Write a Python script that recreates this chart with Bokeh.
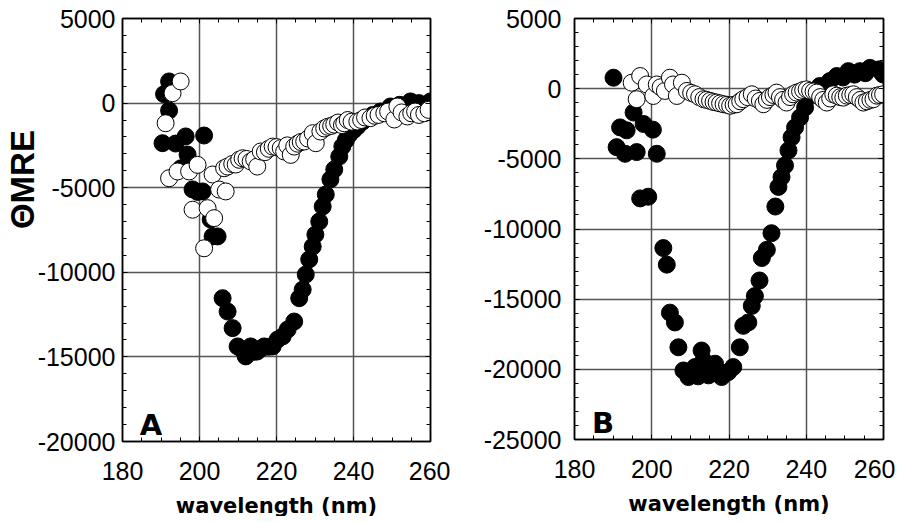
from bokeh.plotting import figure
from bokeh.layouts import row
from bokeh.models import FixedTicker, LinearAxis, Range1d, CustomJSTickFormatter
from bokeh.core.properties import value
from bokeh.embed import file_html
from bokeh.resources import INLINE

# ---------------- data ----------------
x_ticks = [180, 200, 220, 240, 260]
x_minor = list(range(180, 261, 5))
ya_ticks = [-20000, -15000, -10000, -5000, 0, 5000]
ya_minor = list(range(-20000, 5001, 1000))
yb_ticks = [-25000, -20000, -15000, -10000, -5000, 0, 5000]
yb_minor = list(range(-25000, 5001, 1000))

# Panel A, filled circles
a_filled_wl = [190.4, 190.8, 192.1, 192.1, 193.8, 195.2, 196.4, 196.9, 198.2, 199.5,
               200.8, 201.2, 202.9, 203.4, 204.7, 206.0, 207.3, 208.6, 209.9, 211.0,
               212.0, 213.3, 214.2, 215.0, 216.0, 216.8, 218.0, 219.0, 220.3, 221.6,
               222.9, 224.6, 225.9, 226.8, 227.6, 228.5, 229.4, 230.1, 231.1, 232.0,
               232.8, 234.0, 235.0, 236.3, 237.1, 238.0, 238.9, 240.0, 241.0, 242.3,
               243.6, 245.0, 247.0, 249.6, 252.0, 254.8, 257.0, 260.0]
a_filled_mre = [-2370, 530, 1280, -440, -2390, -3850, -1970, -3040, -5100, -5250,
                -5220, -1915, -6880, -7880, -7880, -11530, -12320, -13300, -14380, -14550,
                -14970, -14380, -14700, -14680, -14500, -14380, -14400, -14380, -13970, -13790,
                -13380, -12910, -11530, -11020, -10130, -9240, -8480, -7770, -7000, -6110,
                -5400, -4510, -3920, -3160, -2560, -2200, -1860, -1600, -1380, -1100,
                -890, -700, -500, -200, -100, 100, 0, 100]

# Panel A, open circles
a_open_wl = [191.2, 192.1, 193.0, 195.1, 194.3, 197.3, 198.2, 199.5, 201.2, 202.1,
             203.4, 203.8, 205.1, 206.4, 206.8, 207.3, 208.5, 209.4, 210.3, 211.2,
             212.2, 213.3, 214.2, 215.0, 215.9, 217.0, 218.0, 219.0, 220.0, 221.1,
             222.0, 222.8, 223.7, 224.6, 225.5, 226.3, 227.2, 228.2, 229.4, 230.2,
             231.4, 232.4, 233.3, 234.2, 235.0, 236.0, 237.0, 237.6, 238.5, 239.5,
             241.0, 242.0, 243.0, 244.4, 245.5, 246.5, 248.0, 249.0, 250.6, 251.4,
             252.5, 254.0, 255.0, 256.0, 257.0, 258.4, 259.5]
a_open_mre = [-1190, -4440, 585, 1280, -4040, -4040, -6300, -3650, -8580, -6210,
              -4220, -6800, -5110, -3850, -5220, -3750, -3600, -3630, -3350, -3260,
              -3300, -3450, -3330, -3750, -2860, -2900, -2700, -2570, -2600, -2660,
              -2860, -2500, -3060, -2570, -2400, -2300, -2270, -2100, -1780, -2370,
              -1680, -1500, -1400, -1350, -1270, -1150, -1300, -1190, -1000, -1100,
              -1090, -1000, -850, -890, -750, -700, -600, -500, -970, -200,
              -550, -790, -600, -500, -700, -600, -400]

# Panel B, filled circles
b_filled_wl = [190.1, 190.9, 191.8, 193.1, 193.5, 195.3, 196.1, 197.0, 197.9, 199.1,
               200.3, 201.3, 203.0, 203.9, 204.7, 206.0, 206.9, 208.2, 209.5, 210.3,
               211.2, 212.0, 212.9, 213.4, 214.7, 215.5, 216.4, 217.2, 218.1, 219.8,
               221.1, 222.8, 223.7, 225.0, 225.9, 226.7, 227.9, 228.5, 229.8, 231.0,
               232.0, 232.8, 233.6, 234.5, 235.4, 236.2, 237.1, 238.4, 239.7, 241.0,
               243.5, 246.1, 247.9, 249.5, 250.9, 252.5, 253.9, 255.3, 256.5, 258.7,
               259.9]
b_filled_mre = [780, -4170, -2760, -4640, -2970, -1700, -4520, -7820, -2520, -7700,
                -2920, -4640, -11360, -12540, -15960, -16660, -18430, -20080, -20550, -20200,
                -19840, -20500, -18660, -19370, -20430, -20000, -19600, -20300, -20550, -20200,
                -19840, -18430, -16900, -16660, -15480, -14780, -13670, -12070, -11480, -10300,
                -8400, -7000, -6300, -5470, -4400, -3470, -2760, -2050, -1340, -520,
                190, 540, 900, 800, 1250, 1000, 1250, 1100, 1480, 1370,
                1010]

# Panel B, open circles
b_open_wl = [194.8, 196.1, 197.0, 198.7, 200.4, 201.3, 202.3, 203.4, 204.7, 205.5,
             206.5, 207.8, 209.1, 210.2, 211.2, 212.3, 213.4, 214.2, 215.1, 216.0,
             216.8, 217.7, 218.6, 219.5, 220.3, 221.2, 222.0, 222.9, 223.7, 224.8,
             225.9, 226.9, 228.0, 228.9, 229.8, 230.6, 231.5, 232.3, 233.2, 234.0,
             234.9, 235.8, 236.6, 237.5, 238.4, 239.2, 240.1, 241.0, 241.9, 242.7,
             243.6, 244.4, 245.3, 246.2, 247.0, 247.9, 248.8, 249.6, 250.5, 251.4,
             252.2, 253.1, 254.0, 254.8, 255.7, 256.6, 257.4, 258.3, 259.1, 259.9]
b_open_mre = [424, -750, 900, 300, -520, 300, 100, -160, 780, 300,
              -520, 424, -160, -300, -400, -600, -750, -800, -870, -950,
              -990, -1050, -1110, -1150, -1220, -1150, -1110, -900, -750, -600,
              -400, -700, -870, -1110, -800, -600, -450, -280, -600, -800,
              -990, -600, -400, -280, -200, -100, -50, -150, -200, -280,
              -600, -800, -990, -700, -400, -500, -600, -640, -500, -450,
              -400, -600, -800, -990, -900, -800, -750, -500, -450, -400]

x_label = "wavelength (nm)"
y_label = "\u00a0" * 11 + "\u0398MRE"

FONT = "Liberation Sans"


def style_axis(ax, show_labels, standoff):
    ax.axis_line_color = "black"
    ax.axis_line_width = 1.5
    ax.major_tick_in = 5
    ax.major_tick_out = 0
    ax.minor_tick_in = 4
    ax.minor_tick_out = 0
    ax.major_tick_line_color = "black"
    ax.minor_tick_line_color = "black"
    ax.major_tick_line_width = 1
    ax.minor_tick_line_width = 1
    ax.major_label_text_font = FONT
    ax.major_label_text_color = "black"
    ax.major_label_standoff = standoff
    if show_labels:
        ax.major_label_text_font_size = "25px"
        ax.formatter = CustomJSTickFormatter(code="return tick.toFixed(0);")
    else:
        ax.major_label_text_font_size = "1px"
        ax.formatter = CustomJSTickFormatter(code="return '';")
        ax.major_label_standoff = 0


def make_panel(ymin, yticks, yminor, fw, fh, bl, br, bt, bb, ystand, letter,
               fill_w, fill_m, open_w, open_m, ylab):
    p = figure(x_range=Range1d(180, 260), y_range=Range1d(ymin, 5000),
               frame_width=fw, frame_height=fh,
               min_border_left=bl, min_border_right=br, min_border_top=bt, min_border_bottom=bb,
               output_backend="svg", toolbar_location=None)
    p.background_fill_color = "white"
    p.border_fill_color = "white"
    p.outline_line_color = "black"
    p.outline_line_width = 1.5

    xt = FixedTicker(ticks=x_ticks, minor_ticks=x_minor)
    yt = FixedTicker(ticks=yticks, minor_ticks=yminor)
    p.xaxis.ticker = xt
    p.yaxis.ticker = yt
    p.xgrid.ticker = xt
    p.ygrid.ticker = yt
    p.grid.grid_line_color = "#555555"
    p.grid.grid_line_width = 1.5

    style_axis(p.xaxis[0], True, 20)
    style_axis(p.yaxis[0], True, ystand)
    p.xaxis.axis_label = x_label
    p.xaxis.axis_label_text_font = "DejaVu Sans"
    p.xaxis.axis_label_text_font_style = "bold"
    p.xaxis.axis_label_text_font_size = "21px"
    p.xaxis.axis_label_text_color = "black"
    p.xaxis.axis_label_standoff = 11
    if ylab:
        p.yaxis.axis_label = ylab
        p.yaxis.axis_label_text_font = FONT
        p.yaxis.axis_label_text_font_style = "bold"
        p.yaxis.axis_label_text_font_size = "33px"
        p.yaxis.axis_label_text_color = "black"
        p.yaxis.axis_label_standoff = -6

    top = LinearAxis(ticker=xt)
    style_axis(top, False, 0)
    p.add_layout(top, "above")
    right = LinearAxis(ticker=yt)
    style_axis(right, False, 0)
    p.add_layout(right, "right")

    p.scatter(fill_w, fill_m, size=17, marker="circle", fill_color="black", line_color="black", line_width=1)
    p.scatter(open_w, open_m, size=17, marker="circle", fill_color="white", line_color="black", line_width=1)

    ly = ymin + (5000 - ymin) * 0.04
    p.text(x=[184.5], y=[ly], text=[letter], text_font=value("DejaVu Sans"), text_font_style="bold",
           text_font_size="29px", text_color="black", text_align="left", text_baseline="alphabetic")
    return p


p1 = make_panel(-20000, ya_ticks, ya_minor, 308, 423, 117, 20, 14, 60, 7, "A",
                a_filled_wl, a_filled_mre, a_open_wl, a_open_mre, y_label)
p2 = make_panel(-25000, yb_ticks, yb_minor, 309, 421, 124, 12, 18, 60, 13, "B",
                b_filled_wl, b_filled_mre, b_open_wl, b_open_mre, None)

layout = row(p1, p2)
open("out.html", "w").write(file_html(layout, INLINE))
